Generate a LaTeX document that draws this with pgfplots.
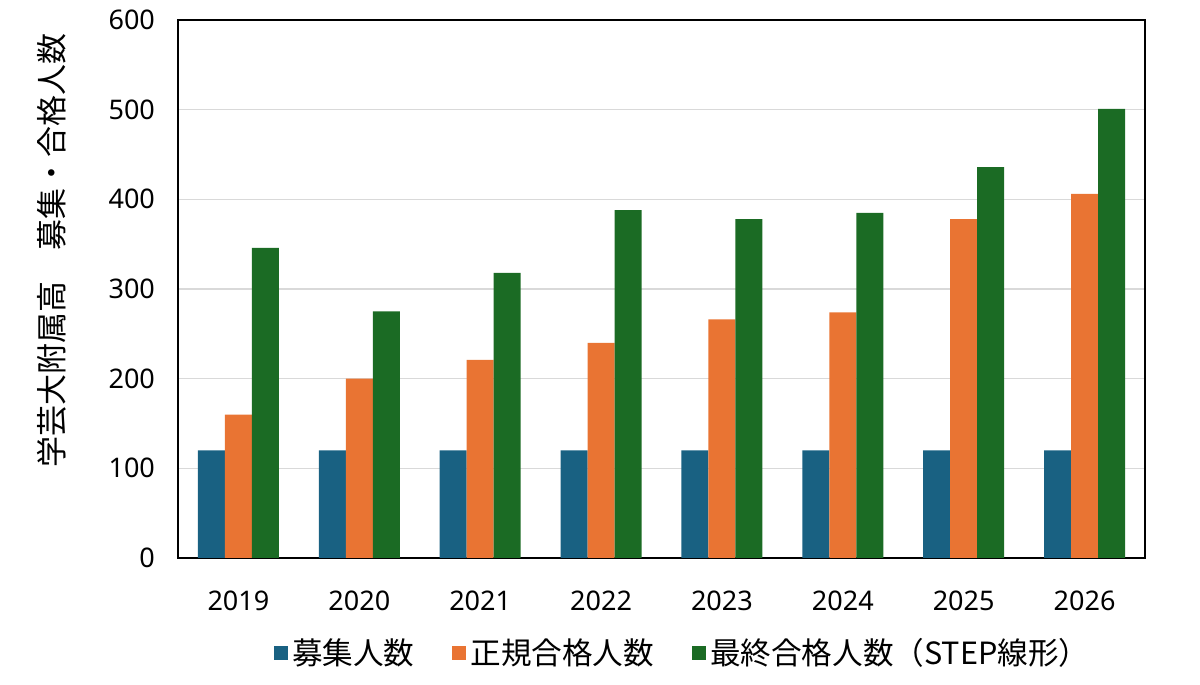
\documentclass[border=0pt]{standalone}
\usepackage{pgfplots}
\pgfplotsset{compat=1.18}
\usepackage{fontspec}
\setmainfont{Noto Sans}
\newfontfamily\cjk{Noto Sans CJK JP}
\definecolor{cblue}{RGB}{25,97,130}
\definecolor{corange}{RGB}{233,116,51}
\definecolor{cgreen}{RGB}{27,107,36}
\definecolor{cgrid}{RGB}{217,217,217}
\begin{document}
\begin{tikzpicture}
\path (-89pt,-63.5pt) rectangle (511pt,279pt);
\begin{axis}[
  at={(0pt,0pt)}, anchor=south west,
  scale only axis,
  width=483.5pt, height=269pt,
  xmin=-0.5, xmax=7.5, ymin=0, ymax=600,
  ybar=0pt, bar width=0.2235,
  xtick={0,1,2,3,4,5,6,7},
  xticklabels={2019,2020,2021,2022,2023,2024,2025,2026},
  ytick={0,100,200,300,400,500,600},
  major tick length=0pt,
  axis line style={black, line width=0.75pt},
  ymajorgrids, grid style={cgrid, line width=0.7pt},
  tick label style={font=\fontsize{13.5}{16}\selectfont},
  /pgf/number format/assume math mode=true,
  xticklabel style={yshift=-13pt},
  yticklabel style={xshift=-8pt},
  ylabel={\cjk\fontsize{15.5}{18}\selectfont 学芸大附属高　募集・合格人数},
  ylabel style={at={(axis description cs:-0.130,0.572)}, anchor=center},
  legend style={at={(axis description cs:0.523,-0.177)}, anchor=center, draw=none,
    font=\cjk\fontsize{15.3}{18}\selectfont, column sep=0pt,
    /tikz/every even column/.append style={column sep=17pt}},
  legend columns=3,
  legend image code/.code={\fill[#1] (0pt,-3.5pt) rectangle (7pt,3.5pt);},
  legend cell align=left,
]
\addplot[fill=cblue, draw=none] coordinates {(0,120) (1,120) (2,120) (3,120) (4,120) (5,120) (6,120) (7,120)};
\addplot[fill=corange, draw=none] coordinates {(0,160) (1,200) (2,221) (3,240) (4,266) (5,274) (6,378) (7,406)};
\addplot[fill=cgreen, draw=none] coordinates {(0,346) (1,275) (2,318) (3,388) (4,378) (5,385) (6,436) (7,501)};
\legend{募集人数,正規合格人数,最終合格人数（STEP線形）}
\end{axis}
\end{tikzpicture}
\end{document}
